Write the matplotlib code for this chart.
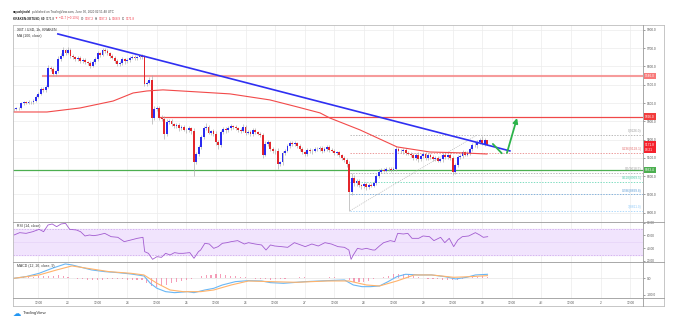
import numpy as np
import matplotlib
matplotlib.use("Agg")
import matplotlib.pyplot as plt

plt.rcParams['font.family'] = ['Liberation Sans', 'DejaVu Sans']

# ---------------- data ----------------
closes = [9368, 9372, 9375, 9398, 9405, 9402, 9408, 9404, 9412, 9435,
          9452, 9478, 9470, 9490, 9592, 9585, 9560, 9575, 9640, 9660,
          9688, 9675, 9692, 9660, 9652, 9640, 9648, 9630, 9638, 9622,
          9618, 9605, 9625, 9640, 9672, 9665, 9690, 9685, 9672, 9660,
          9648, 9630, 9612, 9620, 9640, 9628, 9635, 9648, 9652, 9645,
          9650, 9655, 9650, 9505, 9512, 9525, 9318, 9365, 9372, 9320,
          9312, 9230, 9295, 9302, 9285, 9275, 9280, 9262, 9270, 9255,
          9250, 9262, 9248, 9080, 9120, 9160, 9215, 9262, 9270, 9238,
          9245, 9232, 9185, 9172, 9240, 9258, 9250, 9262, 9272, 9268,
          9262, 9255, 9248, 9270, 9238, 9242, 9230, 9255, 9240, 9232,
          9225, 9118, 9178, 9185, 9150, 9135, 9140, 9068, 9075, 9128,
          9140, 9165, 9182, 9175, 9180, 9165, 9150, 9130, 9120, 9145,
          9135, 9140, 9150, 9148, 9155, 9140, 9150, 9160, 9144, 9140,
          9128, 9130, 9115, 9100, 9090, 9065, 8915, 8990, 8960, 8975,
          8950, 8945, 8958, 8940, 8952, 8948, 8965, 9000, 9025, 9035,
          9030, 9040, 9038, 9035, 9040, 9148, 9140, 9135, 9145, 9128,
          9122, 9115, 9100, 9118, 9092, 9110, 9122, 9098, 9115, 9105,
          9095, 9100, 9085, 9092, 9118, 9105, 9115, 9100, 9025, 9060,
          9105, 9110, 9130, 9118, 9125, 9150, 9172, 9168, 9185, 9200,
          9178, 9197.2, 9171.8]
first_open = 9365
wick_up = [6, 8, 5, 10, 6, 8, 7, 5, 9, 8,
           10, 12, 8, 9, 14, 10, 12, 8, 15, 12,
           18, 10, 14, 9, 10, 8, 12, 9, 10, 8,
           9, 10, 8, 12, 10, 9, 12, 10, 8, 9,
           10, 8, 9, 12, 10, 8, 9, 10, 12, 9,
           8, 10, 14, 12, 10, 15, 30, 18, 12, 10,
           12, 15, 20, 12, 10, 8, 12, 9, 10, 8,
           9, 10, 8, 15, 10, 12, 10, 12, 20, 10,
           9, 12, 14, 10, 10, 12, 9, 10, 15, 9,
           10, 8, 9, 18, 10, 8, 9, 10, 8, 9,
           8, 12, 14, 10, 9, 8, 10, 12, 10, 9,
           8, 10, 12, 9, 10, 8, 9, 10, 8, 9,
           10, 8, 9, 10, 8, 9, 10, 8, 9, 10,
           8, 9, 10, 8, 9, 10, 20, 25, 15, 12,
           10, 8, 9, 12, 10, 8, 9, 10, 12, 9,
           10, 8, 9, 10, 8, 15, 12, 10, 8, 9,
           10, 8, 9, 10, 12, 9, 10, 8, 9, 10,
           8, 9, 10, 8, 9, 10, 8, 9, 10, 12,
           9, 10, 12, 9, 10, 12, 10, 15, 12, 10,
           19, 12, 0.1]
wick_dn = [8, 6, 10, 7, 9, 8, 6, 10, 8, 9,
           8, 10, 12, 9, 10, 12, 14, 10, 9, 12,
           10, 12, 9, 14, 10, 12, 9, 10, 12, 9,
           10, 14, 9, 10, 8, 12, 10, 9, 10, 12,
           9, 10, 12, 9, 10, 12, 9, 10, 8, 9,
           10, 8, 9, 12, 14, 10, 30, 12, 10, 15,
           12, 25, 10, 12, 9, 12, 10, 14, 9, 10,
           12, 10, 15, 80, 12, 10, 9, 10, 12, 10,
           12, 10, 15, 22, 10, 9, 12, 10, 9, 10,
           9, 12, 10, 9, 12, 10, 9, 12, 10, 9,
           12, 20, 10, 12, 15, 10, 12, 30, 10, 12,
           10, 9, 12, 10, 9, 12, 10, 9, 12, 10,
           9, 12, 10, 9, 10, 12, 9, 10, 12, 9,
           12, 10, 9, 12, 10, 15, 104, 20, 15, 12,
           12, 15, 10, 14, 12, 10, 9, 12, 10, 9,
           10, 9, 12, 10, 9, 12, 10, 9, 12, 10,
           9, 12, 10, 9, 12, 10, 9, 12, 10, 9,
           10, 12, 9, 10, 12, 10, 9, 12, 20, 12,
           10, 9, 12, 10, 9, 12, 10, 9, 12, 10,
           9, 12, 2.9]
first_hour = -10   # hours after 22 Jun 12:00 of the first candle

ma_h = [-10.3, 3.5, 16.9, 30.3, 38.4, 44.0, 50.5, 64.3, 77.7, 93.9, 104.9,
        114.2, 118.2, 130.4, 145.4, 158.8, 172.2, 181.9]
ma_v = [9351, 9351, 9373, 9411, 9455, 9466, 9472, 9461, 9450, 9417, 9379,
        9346, 9318, 9253, 9160, 9132, 9127, 9121]

trend_h = [7.9, 191.2]
trend_p = [9778, 9138]

res1, res1_start = 9546.0, 1.9
res2, res2_start = 9326.0, 49.0
support = 9033.4

fib_ratio_labels = ["0(9226.0)", "0.236(9128.1)", "0.5(9018.5)",
                    "0.618(8969.5)", "0.786(8899.8)", "1(8811.0)"]
fib_prices = [9226.0, 9128.1, 9018.5, 8969.5, 8899.8, 8811.0]
fib_colors = ['#9e9e9e', '#e57373', '#9e9e9e', '#4dd0a8', '#5b9bd5', '#90caf9']
fib_start = 126.4
fib_diag_h = [126.4, 178.0]
fib_diag_p = [8811.0, 9226.0]

arrow1_h, arrow1_p = [184.3, 187.9], [9176, 9125]
arrow2_h, arrow2_p = [190.0, 194.1], [9127, 9318]

rsi_h = [-9.9, -7.6, -5.0, -2.3, 0.3, 2.1, 3.9, 5.6, 7.4, 9.2, 11.0, 12.7, 15.4, 17.1,
         18.9, 20.7, 22.4, 24.2, 26.9, 29.5, 32.2, 34.8, 37.5, 40.1, 42.4, 43.1, 44.6,
         46.3, 48.1, 49.9, 51.6, 53.4, 55.2, 56.9, 58.7, 61.4, 63.1, 64.9, 65.8, 67.5,
         69.3, 71.1, 72.9, 74.6, 76.4, 78.2, 80.8, 83.5, 85.2, 87.9, 90.5, 92.3, 94.1,
         95.8, 98.5, 101.1, 103.8, 106.4, 108.2, 110.9, 113.5, 116.2, 118.8, 121.5,
         124.1, 125.9, 126.8, 127.7, 129.4, 131.2, 133.0, 135.6, 136.5, 138.3, 140.0,
         142.7, 144.5, 145.7, 148.0, 149.8, 151.5, 154.2, 156.0, 158.6, 160.4, 163.1,
         164.8, 166.6, 168.4, 170.1, 171.9, 174.5, 177.2, 179.0, 180.4, 182.2]
rsi_v = [60.7, 64.4, 63.3, 65.9, 69.6, 65.9, 76.4, 78.0, 73.8, 78.0, 79.0, 69.6, 68.6,
         65.9, 59.2, 60.7, 59.7, 60.7, 63.3, 58.1, 57.1, 50.3, 52.9, 55.5, 57.1, 34.6,
         32.0, 22.6, 26.8, 25.7, 32.0, 29.4, 33.1, 32.0, 32.0, 33.1, 24.2, 34.6, 37.2,
         47.7, 46.6, 39.8, 42.5, 47.7, 48.7, 50.3, 51.9, 46.6, 48.7, 46.6, 45.1, 37.2,
         45.1, 43.5, 42.5, 41.4, 48.7, 45.1, 42.5, 46.6, 43.5, 48.7, 46.6, 42.5, 41.4,
         37.2, 22.6, 29.4, 39.8, 38.3, 39.8, 37.2, 37.2, 43.5, 48.7, 51.9, 50.3, 63.3,
         62.3, 63.3, 55.5, 55.5, 59.2, 58.1, 51.9, 57.1, 48.7, 55.5, 42.5, 52.9, 58.1,
         59.2, 64.4, 60.7, 57.1, 58.1]

macd_h = [-9.9, -5.0, 0.3, 5.6, 10.9, 13.6, 16.3, 21.6, 26.9, 32.2, 37.5, 42.8, 45.4,
          48.1, 51.6, 55.2, 60.5, 63.1, 67.5, 71.1, 74.6, 79.9, 85.2, 90.5, 94.1, 99.4,
          108.2, 117.1, 124.1, 127.7, 131.2, 134.7, 138.3, 141.8, 145.4, 148.9, 154.2,
          159.5, 164.8, 169.2, 173.7, 177.2, 182.1]
macd_v = [0, 10, 30, 60, 86, 80, 70, 50, 40, 34, 26, 14, -30, -60, -80, -86, -80, -86,
          -70, -60, -40, -20, -14, -16, -26, -30, -20, -14, -10, -40, -50, -50, -46,
          -20, 10, 24, 20, 20, 10, -4, 6, 20, 24]
sig_h = [-9.9, 0.3, 7.4, 13.6, 19.8, 28.6, 37.5, 42.8, 48.1, 53.4, 58.7, 65.8, 71.1,
         78.2, 85.2, 94.1, 104.7, 117.1, 125.9, 133.0, 138.3, 145.4, 152.4, 159.5,
         168.4, 175.4, 182.1]
sig_v = [0, 20, 50, 74, 60, 40, 30, 20, -30, -70, -80, -80, -70, -40, -16, -20, -24,
         -16, -16, -40, -46, -16, 20, 20, 6, 10, 16]
hist_start, hist_step = -10, 2
hist_v = [2, 4, 6, 8, 10, 12, 14, 14, 16, 18, 16, 10, 4, -2, -6, -8, -10, -10, -8, -6,
          -6, -4, -6, -8, -8, -10, -12, -30, -45, -50, -45, -38, -30, -22, -14, -8, -6,
          4, 12, 18, 22, 26, 24, 20, 16, 12, 8, 5, 2, -2, -4, -6, -8, -6, -4, -2, 2, 4,
          6, 6, 4, 3, 2, 4, 6, 6, 4, 2, -10, -20, -24, -20, -14, -6, 2, 10, 16, 24, 28,
          26, 20, 12, 6, 2, -2, -4, -6, -8, -8, -10, -8, -4, 2, 6, 10, 12, 10]

time_tick_h = list(range(0, 241, 12))
time_tick_labels = ["12:00", "23", "12:00", "24", "12:00", "25", "12:00", "26",
                    "12:00", "27", "12:00", "28", "12:00", "29", "12:00", "30",
                    "12:00", "Jul", "12:00", "2", "12:00"]
price_ticks = [8800, 8900, 9000, 9100, 9200, 9300, 9400, 9500, 9600, 9700, 9800]
rsi_ticks = [20, 40, 60, 80]
macd_ticks = [-100, 0]

header_line1 = [("aayushjindal", 'bold', '#222222'),
                ("published on TradingView.com, June 30, 2020 02:51:48 UTC", 'normal', '#444444')]
header_line2 = [("KRAKEN:XBTUSD, 60", 'bold', '#222222'),
                ("9171.8", 'normal', '#222222'),
                ("▼ −11.7 (−0.13%)", 'normal', '#f23645'),
                ("O:", 'normal', '#222222'), ("9197.2", 'normal', '#f23645'),
                ("H:", 'normal', '#222222'), ("9197.3", 'normal', '#f23645'),
                ("L:", 'normal', '#222222'), ("9168.9", 'normal', '#f23645'),
                ("C:", 'normal', '#222222'), ("9171.8", 'normal', '#f23645')]

# ---------------- layout ----------------
W, H = 684, 330
fig = plt.figure(figsize=(6.84, 3.30), dpi=100)
fig.patch.set_facecolor('white')


def px_axes(x0, y0, x1, y1):
    return fig.add_axes([x0 / W, 1 - y1 / H, (x1 - x0) / W, (y1 - y0) / H])


XL, XR, XF = 13, 643.3, 664
ax = px_axes(XL, 25, XR, 222)
ax_rsi = px_axes(XL, 222, XR, 262)
ax_macd = px_axes(XL, 262, XR, 298)
XLIM = (-10.3, 245.3)

TXT = '#555555'
FS = 2.3
for a in (ax, ax_rsi, ax_macd):
    a.set_xlim(*XLIM)
    for s in a.spines.values():
        s.set_visible(False)
    a.set_facecolor('none')
    for t in time_tick_h:
        a.axvline(t, color='#ececec', lw=0.5, zorder=0)
    a.yaxis.tick_right()
    a.tick_params(axis='y', length=1.5, width=0.4, pad=1.0, labelsize=FS,
                  colors=TXT, direction='out')
    a.tick_params(axis='x', length=0, labelbottom=False)

# ---------- main panel ----------
ax.set_ylim(8749, 9827)
ax.set_yticks(price_ticks)
ax.set_yticklabels([f"{p:.1f}" for p in price_ticks])
for p in price_ticks:
    ax.axhline(p, color='#ececec', lw=0.5, zorder=0)

closes_a = np.array(closes, dtype=float)
opens_a = np.concatenate([[first_open], closes_a[:-1]])
highs = np.maximum(opens_a, closes_a) + np.array(wick_up)
lows = np.minimum(opens_a, closes_a) - np.array(wick_dn)
hours = first_hour + np.arange(len(closes_a))
up = closes_a >= opens_a
colors = np.where(up, '#2b2bf0', '#e3262b')
ax.vlines(hours, lows, highs, color='#a8a8a8', lw=0.45, zorder=2)
body_h = np.maximum(np.abs(closes_a - opens_a), 2.5)
ax.bar(hours, body_h, bottom=np.minimum(opens_a, closes_a), width=0.75,
       color=colors, linewidth=0, zorder=3)

ax.plot(ma_h, ma_v, color='#f24a4a', lw=0.8, zorder=4)
ax.plot([res1_start, XLIM[1]], [res1, res1], color='#f58a8a', lw=1.5, alpha=0.85, zorder=1)
ax.plot([res2_start, XLIM[1]], [res2, res2], color='#f04848', lw=0.9, zorder=1)
ax.plot(list(XLIM), [support, support], color='#4caf50', lw=0.9, zorder=1)
ax.plot(trend_h, trend_p, color='#2f2ff2', lw=1.2, zorder=5)

for lab, p, c in zip(fib_ratio_labels, fib_prices, fib_colors):
    ax.plot([fib_start, XLIM[1]], [p, p], color=c, lw=0.5, ls=(0, (2, 2)), zorder=1)
    ax.text(244.6, p + 8, lab, ha='right', va='bottom', fontsize=FS, color=c)
ax.plot(fib_diag_h, fib_diag_p, color='#b5b5b5', lw=0.5, ls=(0, (1.5, 1.5)), zorder=1)

GREEN = '#2cb34a'
ax.plot(arrow1_h, arrow1_p, color=GREEN, lw=1.3, zorder=6, solid_capstyle='round')
ax.annotate('', xy=(arrow2_h[1], arrow2_p[1]), xytext=(arrow2_h[0], arrow2_p[0]),
            arrowprops=dict(arrowstyle='-|>', color=GREEN, lw=1.3, mutation_scale=7,
                            shrinkA=0, shrinkB=0), zorder=6)


def price_box(p, txt, fc):
    ax.text(246.0, p, txt, ha='left', va='center', fontsize=FS, color='white',
            clip_on=False, zorder=10, linespacing=1.6,
            bbox=dict(boxstyle='square,pad=0.35', fc=fc, ec='none'))


price_box(res1, f"{res1:.1f}", '#f87b7b')
price_box(res2, f"{res2:.1f}", '#f23c3c')
price_box(closes[-1] - 15, f"{closes[-1]:.1f}\n08:21", '#f5222d')
price_box(support, f"{support:.1f}", '#4caf50')

ax.text(-8.6, 9800, "XBT / USD, 1h, KRAKEN", fontsize=2.5, color='#333333', va='center')
ax.text(-8.6, 9767, "MA (100, close)", fontsize=2.5, color='#333333', va='center')

# ---------- RSI ----------
ax_rsi.set_ylim(18.4, 81.1)
ax_rsi.set_yticks(rsi_ticks)
ax_rsi.set_yticklabels([f"{v:.2f}" for v in rsi_ticks])
ax_rsi.axhspan(30, 70, color='#f1e4fd', zorder=0)
for v in (30, 70):
    ax_rsi.axhline(v, color='#c9a3ea', lw=0.5, ls=(0, (2, 2)), zorder=1)
ax_rsi.axhline(50, color='#e6d3f8', lw=0.5, zorder=1)
ax_rsi.plot(rsi_h, rsi_v, color='#a25cd0', lw=0.6, zorder=3)
ax_rsi.text(-8.6, 75.5, "RSI (14, close)", fontsize=2.5, color='#333333', va='center')

# ---------- MACD ----------
ax_macd.set_ylim(-118, 97.6)
ax_macd.set_yticks(macd_ticks)
ax_macd.set_yticklabels([f"{v:.1f}" for v in macd_ticks])
ax_macd.axhline(0, color='#e6e6e6', lw=0.5, zorder=0)
hist_x = hist_start + hist_step * np.arange(len(hist_v))
ax_macd.bar(hist_x, hist_v, width=0.45, color='#f27ca0', alpha=0.75, linewidth=0, zorder=2)
ax_macd.plot(macd_h, macd_v, color='#6ab7f5', lw=0.8, zorder=3)
ax_macd.plot(sig_h, sig_v, color='#ffb36b', lw=0.8, zorder=3)
ax_macd.text(-8.6, 75, "MACD (12, 26, close, 9)", fontsize=2.5, color='#333333', va='center')
ax_macd.set_xticks(time_tick_h)
ax_macd.set_xticklabels(time_tick_labels)
ax_macd.tick_params(axis='x', labelbottom=True, length=0, pad=2.2, labelsize=FS, colors=TXT)

# ---------- frame lines ----------
def fline(x0, y0, x1, y1, c='#bdbdbd', lw=0.6):
    fig.add_artist(plt.Line2D([x0 / W, x1 / W], [1 - y0 / H, 1 - y1 / H],
                              color=c, lw=lw, transform=fig.transFigure))


fline(XL, 25, XF, 25)
fline(XL, 306, XF, 306)
fline(XL, 25, XL, 306)
fline(XF, 25, XF, 306)
fline(XR, 25, XR, 306, c='#9a9a9a')
fline(XL, 222, XF, 222, c='#9a9a9a')
fline(XL, 262, XF, 262, c='#9a9a9a')
fline(XL, 298, XF, 298, c='#9a9a9a')

# ---------- header (pieces chained left to right) ----------
renderer = fig.canvas.get_renderer()
HF = 2.2


def chain(x, y, parts, gap=1.0):
    for s, wgt, col in parts:
        t = fig.text(x / W, 1 - y / H, s, va='center', ha='left', fontsize=HF,
                     weight=wgt, color=col)
        bb = t.get_window_extent(renderer)
        x = bb.x1 + gap


chain(13, 12, header_line1)
chain(13, 18.5, header_line2)

fig.text(13 / W, 1 - 313 / H, "☁", va='center', ha='left', fontsize=6,
         color='#2196f3', family=['DejaVu Sans'])
fig.text(23 / W, 1 - 313.3 / H, "TradingView", va='center', ha='left', fontsize=3.2,
         color='#333333')

fig.savefig("out.png", dpi=100, facecolor='white')
